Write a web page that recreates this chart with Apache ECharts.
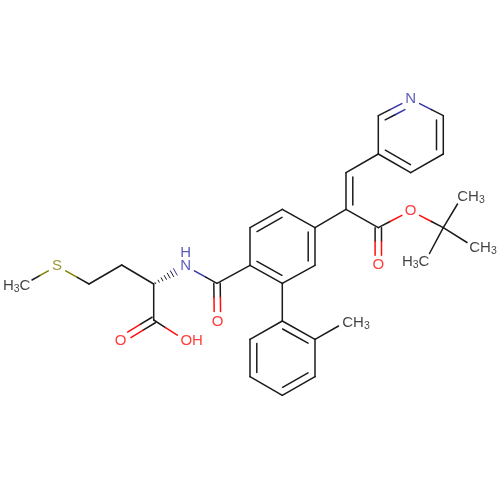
<!DOCTYPE html>
<html><head><meta charset="utf-8">
<style>html,body{margin:0;padding:0;background:#fff}#c{width:500px;height:500px}</style>
<script src="https://cdn.jsdelivr.net/npm/echarts@6/dist/echarts.min.js"></script>
</head><body><div id="c"></div>
<script>
// atoms (drawing-space coordinates)
const atomIds = ['Me1','S','Cg','Cb','Ca','Cc','Oc','Oh','N1','Cam','Oam',
 'R1','R2','R3','R4','R5','R6','T1','T2','T3','T4','T5','T6','TMe',
 'Cv1','Cv2','Py1','Py2','N2','Py4','Py5','Py6','Ce','Oe1','Oe2','Cq','Q1','Q2','Q3'];
const atomX = [32,57,89,121.7,153.7,153.7,120.7,185.7,185.7,217,217.5,
 250,250,282.3,315,315,282.3,282.3,315,315,282.3,250,250,338.5,
 346,346,378.3,378.3,410.7,443.3,443.3,410.7,378.3,378.3,410.7,443.3,457.5,467,429.5];
const atomY = [280,266,284,265,284,320,340,340.5,266,283.3,321.5,
 265.3,227.7,209.3,227.7,265.3,283.3,321,339.3,376.7,395.3,376.7,339.3,326,
 209.3,172.7,154,115.7,99,115.7,154,172.7,227.7,265.3,210.7,227.7,204,242.5,253.5];
// gap (px) kept clear around labelled atoms, and their colours
const atomGap = {S:10,Oc:10,Oh:10,N1:10,Oam:10,N2:10,Oe1:10,Oe2:10};
const atomColor = {S:'#808000',Oc:'#ff0d0d',Oh:'#ff0d0d',Oam:'#ff0d0d',Oe1:'#ff0d0d',Oe2:'#ff0d0d',N1:'#3333a8',N2:'#3333a8'};
// bonds: from, to, kind (s single, h hashed wedge, m symmetric double, r double with inner line on the right of travel)
const bondFrom = ['Me1','S','Cg','Cb','Ca','Ca','Cc','Cc','N1','Cam','Cam',
 'R1','R2','R3','R4','R5','R6','R6',
 'T1','T2','T3','T4','T5','T6','T2',
 'R4','Cv1','Cv2','Py1','Py2','N2','Py4','Py5','Py6',
 'Cv1','Ce','Ce','Oe2','Cq','Cq','Cq'];
const bondTo   = ['S','Cg','Cb','Ca','Cc','N1','Oc','Oh','Cam','Oam','R1',
 'R2','R3','R4','R5','R6','R1','T1',
 'T2','T3','T4','T5','T6','T1','TMe',
 'Cv1','Cv2','Py1','Py2','N2','Py4','Py5','Py6','Py1',
 'Ce','Oe1','Oe2','Cq','Q1','Q2','Q3'];
const bondKind = ['s','s','s','s','s','h','m','s','s','m','s',
 's','r','s','r','s','r','s',
 'r','s','r','s','r','s','s',
 's','r','s','s','r','s','r','s','r',
 's','m','s','s','s','s','s'];
// atom labels
const labelText = ['S','N','H','O','OH','O','N','O','O','{t|H}{s|3}{t|C}','{t|CH}{s|3}','{t|CH}{s|3}','{t|CH}{s|3}','{t|H}{s|3}{t|C}'];
const labelX = [57,185.7,185.7,120.7,191.7,217.5,410.7,378.3,410.7,16.7,356,471,483,415.7];
const labelY = [266,266,252.5,340.5,340.5,321.5,99,265.3,210.7,285.7,323,197,247.7,261.7];
const labelColor = ['#808000','#3333a8','#3333a8','#ff0d0d','#ff0d0d','#ff0d0d','#3333a8','#ff0d0d','#ff0d0d','#111','#111','#111','#111','#111'];

const idx = id => atomIds.indexOf(id);
const bondRows = bondFrom.map((f,i)=>{
  const a=idx(f), b=idx(bondTo[i]);
  return [atomX[a],atomY[a],atomX[b],atomY[b],bondKind[i],f,bondTo[i]];
});
const INK='#1a1a1a';
function seg(p,q,color,w){return {type:'line',shape:{x1:p[0],y1:p[1],x2:q[0],y2:q[1]},style:{stroke:color,lineWidth:w||1.5,lineCap:'round'}};}
function split(p,q,c1,c2){
  if(c1===c2) return [seg(p,q,c1)];
  const m=[(p[0]+q[0])/2,(p[1]+q[1])/2];
  return [seg(p,m,c1),seg(m,q,c2)];
}
function renderBond(params,api){
  const r=bondRows[params.dataIndex];
  let p=api.coord([api.value(0),api.value(1)]), q=api.coord([api.value(2),api.value(3)]);
  const kind=r[4], gA=atomGap[r[5]]||0, gB=atomGap[r[6]]||0;
  const dx=q[0]-p[0], dy=q[1]-p[1], L=Math.hypot(dx,dy), ux=dx/L, uy=dy/L, nx=-uy, ny=ux;
  const ca=atomColor[r[5]]||INK, cb=atomColor[r[6]]||INK;
  const s=[p[0]+ux*gA,p[1]+uy*gA], e=[q[0]-ux*gB,q[1]-uy*gB];
  let ch=[];
  if(kind==='s'){ ch=split(s,e,ca,cb); }
  else if(kind==='m'){
    const o=3.2;
    ch=split([s[0]+nx*o,s[1]+ny*o],[e[0]+nx*o,e[1]+ny*o],ca,cb)
      .concat(split([s[0]-nx*o,s[1]-ny*o],[e[0]-nx*o,e[1]-ny*o],ca,cb));
  } else if(kind==='r'){
    ch=split(s,e,ca,cb);
    const o=6.8, t=4.2, ta=gA?0:t, tb=gB?0:t;
    ch=ch.concat(split([s[0]+nx*o+ux*ta,s[1]+ny*o+uy*ta],[e[0]+nx*o-ux*tb,e[1]+ny*o-uy*tb],ca,cb));
  } else if(kind==='h'){
    const n=7;
    for(let i=0;i<n;i++){
      const f=(i+0.5)/n, w=0.4+f*3.6, c=[s[0]+(e[0]-s[0])*f,s[1]+(e[1]-s[1])*f];
      ch.push(seg([c[0]+nx*w,c[1]+ny*w],[c[0]-nx*w,c[1]-ny*w],f>0.8?'#3333a8':INK,1));
    }
  }
  return {type:'group',children:ch};
}
const chart=echarts.init(document.getElementById('c'),null,{renderer:'canvas'});
const hidden={show:false};
chart.setOption({
  animation:false,backgroundColor:'#fff',
  grid:{left:0,right:0,top:0,bottom:0},
  xAxis:{type:'value',min:0,max:500,axisLine:hidden,axisTick:hidden,axisLabel:hidden,splitLine:hidden},
  yAxis:{type:'value',min:0,max:500,inverse:true,axisLine:hidden,axisTick:hidden,axisLabel:hidden,splitLine:hidden},
  series:[
   {type:'custom',renderItem:renderBond,data:bondRows.map(r=>r.slice(0,4)),encode:{x:[0,2],y:[1,3]},silent:true,clip:false},
   {type:'scatter',symbolSize:0,silent:true,
    data:labelText.map((t,i)=>({value:[labelX[i],labelY[i]],
      label:{show:true,position:'inside',formatter:t,color:labelColor[i],fontFamily:'Liberation Sans',fontSize:15,
        rich:{t:{fontFamily:'Liberation Sans',fontSize:15,color:labelColor[i]},
              s:{fontFamily:'Liberation Sans',fontSize:10.5,color:labelColor[i],padding:[7,0,0,0]}}}}))}
  ]
});
</script></body></html>
